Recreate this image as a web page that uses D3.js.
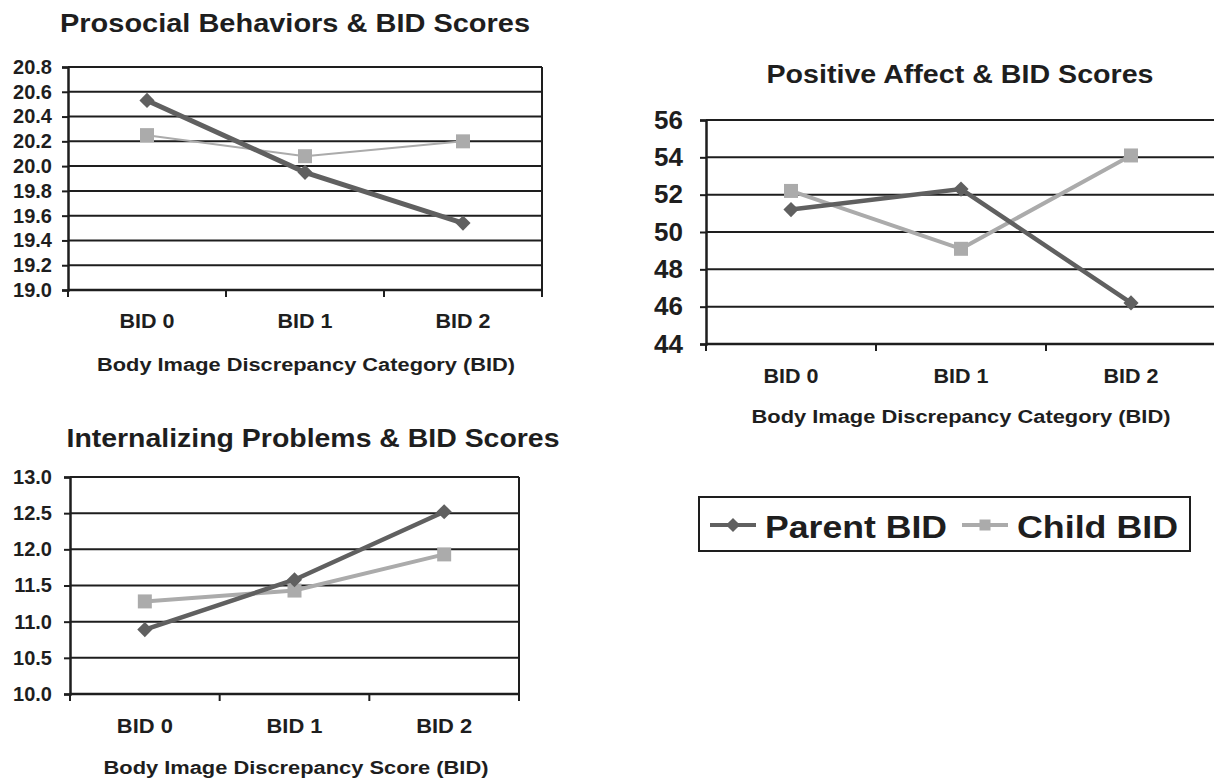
<!DOCTYPE html>
<html>
<head>
<meta charset="utf-8">
<script src="https://cdn.jsdelivr.net/npm/d3@7"></script>
<style>
  html, body { margin: 0; padding: 0; background: #fff; }
  svg { display: block; font-family: "Liberation Sans", Arial, sans-serif; font-weight: bold; }
</style>
</head>
<body>
<svg id="chart" width="1214" height="780"></svg>
<script>
// ---- data ----
const categories = ["BID 0", "BID 1", "BID 2"];
const seriesNames = ["Parent BID", "Child BID"];

const prosocialParent = [20.53, 19.95, 19.54];
const prosocialChild  = [20.25, 20.08, 20.20];
const prosocialTicks  = [19.0, 19.2, 19.4, 19.6, 19.8, 20.0, 20.2, 20.4, 20.6, 20.8];

const affectParent = [51.2, 52.3, 46.2];
const affectChild  = [52.2, 49.1, 54.1];
const affectTicks  = [44, 46, 48, 50, 52, 54, 56];

const internalParent = [10.89, 11.58, 12.52];
const internalChild  = [11.28, 11.43, 11.93];
const internalTicks  = [10.0, 10.5, 11.0, 11.5, 12.0, 12.5, 13.0];

const titles = [
  "Prosocial Behaviors & BID Scores",
  "Positive Affect & BID Scores",
  "Internalizing Problems & BID Scores"
];
const axisTitles = [
  "Body Image Discrepancy Category (BID)",
  "Body Image Discrepancy Category (BID)",
  "Body Image Discrepancy Score (BID)"
];

// ---- styles ----
const parentColor = "#606060";
const childColor = "#ababab";
const gridColor = "#1e1e1e";
const textColor = "#1e1e1e";

const svg = d3.select("#chart");

function stretchText(sel, len) {
  sel.attr("textLength", len).attr("lengthAdjust", "spacingAndGlyphs");
}

function drawChart(cfg) {
  const g = svg.append("g");
  const x = d3.scaleBand().domain(categories).range([cfg.left, cfg.right]);
  const y = d3.scaleLinear().domain([cfg.ticks[0], cfg.ticks[cfg.ticks.length - 1]]).range([cfg.bottom, cfg.top]);
  const cx = c => x(c) + x.bandwidth() / 2;

  // gridlines
  g.selectAll("line.grid").data(cfg.ticks.slice(1)).join("line")
    .attr("x1", cfg.left).attr("x2", cfg.gridRight)
    .attr("y1", d => y(d)).attr("y2", d => y(d))
    .attr("stroke", gridColor).attr("stroke-width", 2);

  if (cfg.border) {
    g.append("line").attr("x1", cfg.right).attr("x2", cfg.right)
      .attr("y1", cfg.top).attr("y2", cfg.bottom)
      .attr("stroke", gridColor).attr("stroke-width", 2);
  }

  // y axis
  const yAxis = d3.axisLeft(y).tickValues(cfg.ticks).tickFormat(cfg.fmt)
    .tickSize(6).tickPadding(cfg.yPad);
  const ya = g.append("g").attr("transform", `translate(${cfg.left},0)`).call(yAxis);
  ya.select(".domain").attr("stroke", gridColor).attr("stroke-width", 2.5);
  ya.selectAll(".tick line").attr("stroke", gridColor).attr("stroke-width", 2);
  ya.selectAll(".tick text").attr("fill", textColor)
    .style("font-size", cfg.yFont + "px").style("font-weight", "bold")
    .style("font-family", '"Liberation Sans", Arial, sans-serif');

  // x axis: baseline and boundary ticks
  g.append("line").attr("x1", cfg.left).attr("x2", Math.min(cfg.right, 1214))
    .attr("y1", cfg.bottom).attr("y2", cfg.bottom)
    .attr("stroke", gridColor).attr("stroke-width", 2.5);
  const bounds = categories.map(c => x(c)).concat([cfg.right]);
  g.selectAll("line.xt").data(bounds).join("line")
    .attr("x1", d => d).attr("x2", d => d)
    .attr("y1", cfg.bottom).attr("y2", cfg.bottom + 7)
    .attr("stroke", gridColor).attr("stroke-width", 2);
  g.selectAll("text.xl").data(categories).join("text")
    .attr("x", d => cx(d)).attr("y", cfg.xLabelY)
    .attr("text-anchor", "middle").attr("fill", textColor)
    .style("font-size", cfg.xFont + "px").text(d => d)
    .call(stretchText, cfg.xLabelLen);

  // titles
  g.append("text").attr("x", cfg.titleX).attr("y", cfg.titleY)
    .attr("text-anchor", "middle").attr("fill", textColor)
    .style("font-size", cfg.titleFont + "px").text(cfg.title)
    .call(stretchText, cfg.titleLen);
  g.append("text").attr("x", cfg.axisTitleX).attr("y", cfg.axisTitleY)
    .attr("text-anchor", "middle").attr("fill", textColor)
    .style("font-size", cfg.axisTitleFont + "px").text(cfg.axisTitle)
    .call(stretchText, cfg.axisTitleLen);

  // series
  const line = d3.line().x((d, i) => cx(categories[i])).y(d => y(d));
  g.append("path").datum(cfg.child).attr("d", line)
    .attr("fill", "none").attr("stroke", childColor).attr("stroke-width", cfg.childWidth);
  g.append("path").datum(cfg.parent).attr("d", line)
    .attr("fill", "none").attr("stroke", parentColor).attr("stroke-width", cfg.parentWidth);

  g.selectAll("path.child").data(cfg.child).join("path")
    .attr("d", d3.symbol().type(d3.symbolSquare).size(196)())
    .attr("transform", (d, i) => `translate(${cx(categories[i])},${y(d)})`)
    .attr("fill", childColor);
  g.selectAll("path.parent").data(cfg.parent).join("path")
    .attr("d", d3.symbol().type(d3.symbolSquare).size(115)())
    .attr("transform", (d, i) => `translate(${cx(categories[i])},${y(d)}) rotate(45)`)
    .attr("fill", parentColor);
}

drawChart({
  left: 68, right: 542, gridRight: 542, top: 67, bottom: 290, border: true,
  ticks: prosocialTicks, fmt: d3.format(".1f"), yPad: 10, yFont: 20,
  xLabelY: 328, xFont: 20, xLabelLen: 55,
  title: titles[0], titleX: 295, titleY: 32, titleFont: 25, titleLen: 470,
  axisTitle: axisTitles[0], axisTitleX: 306, axisTitleY: 371, axisTitleFont: 18, axisTitleLen: 418,
  parent: prosocialParent, child: prosocialChild, childWidth: 2, parentWidth: 5
});

drawChart({
  left: 706, right: 1216, gridRight: 1214, top: 120, bottom: 344, border: false,
  ticks: affectTicks, fmt: d3.format("d"), yPad: 17, yFont: 26,
  xLabelY: 383, xFont: 20, xLabelLen: 55,
  title: titles[1], titleX: 960, titleY: 83, titleFont: 25, titleLen: 387,
  axisTitle: axisTitles[1], axisTitleX: 961, axisTitleY: 423, axisTitleFont: 18, axisTitleLen: 419,
  parent: affectParent, child: affectChild, childWidth: 4, parentWidth: 4.5
});

drawChart({
  left: 70, right: 519, gridRight: 519, top: 477, bottom: 694, border: true,
  ticks: internalTicks, fmt: d3.format(".1f"), yPad: 12, yFont: 20,
  xLabelY: 733, xFont: 20, xLabelLen: 56,
  title: titles[2], titleX: 313, titleY: 447, titleFont: 25, titleLen: 493,
  axisTitle: axisTitles[2], axisTitleX: 296, axisTitleY: 774, axisTitleFont: 18, axisTitleLen: 385,
  parent: internalParent, child: internalChild, childWidth: 4, parentWidth: 4.5
});

// ---- legend ----
const leg = svg.append("g");
leg.append("rect").attr("x", 699).attr("y", 497).attr("width", 491).attr("height", 54)
  .attr("fill", "#fff").attr("stroke", gridColor).attr("stroke-width", 2);
const legItems = [
  { name: seriesNames[0], color: parentColor, x0: 710, tx: 765, len: 182, diamond: true },
  { name: seriesNames[1], color: childColor, x0: 962, tx: 1017, len: 161, diamond: false }
];
legItems.forEach(it => {
  leg.append("line").attr("x1", it.x0).attr("x2", it.x0 + 46)
    .attr("y1", 525).attr("y2", 525)
    .attr("stroke", it.color).attr("stroke-width", 4);
  leg.append("path")
    .attr("d", d3.symbol().type(d3.symbolSquare).size(it.diamond ? 100 : 121)())
    .attr("transform", `translate(${it.x0 + 23},525)` + (it.diamond ? " rotate(45)" : ""))
    .attr("fill", it.color);
  leg.append("text").attr("x", it.tx).attr("y", 538).attr("fill", textColor)
    .style("font-size", "32px").text(it.name)
    .call(stretchText, it.len);
});
</script>
</body>
</html>
